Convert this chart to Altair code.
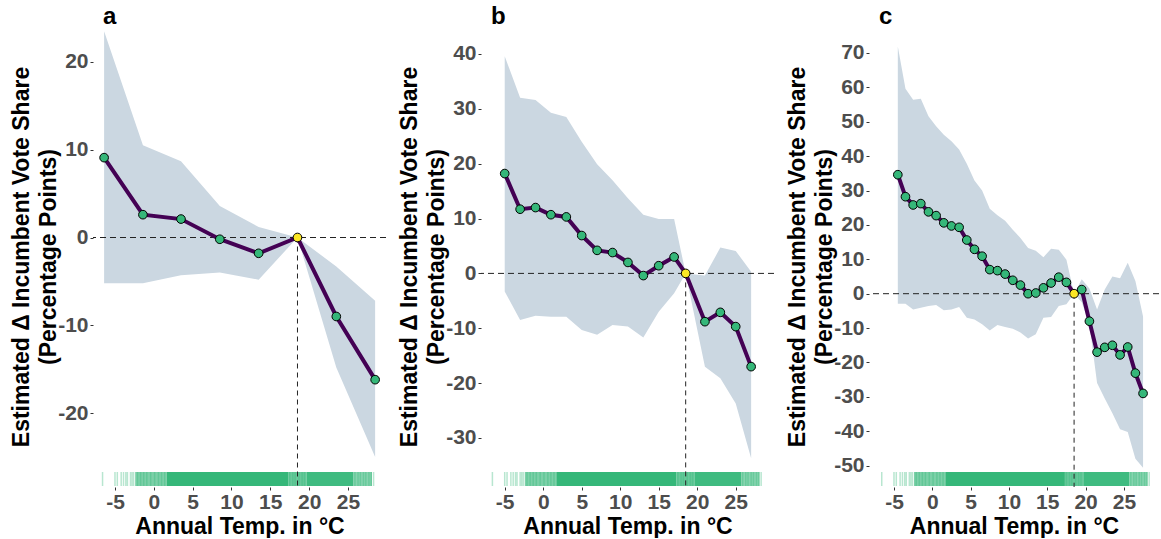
import altair as alt
import pandas as pd

FONT = "Liberation Sans"
ref_temp = 18.5
panel_letters = ["a", "b", "c"]
x_ticks = [-5, 0, 5, 10, 15, 20, 25]
y_title = ["Estimated Δ Incumbent Vote Share", "(Percentage Points)"]
x_title = "Annual Temp. in °C"

# Panel a
a_temp = [-6.4, -1.4, 3.5, 8.5, 13.5, 18.5, 23.5, 28.5]
a_est = [9.1, 2.6, 2.1, -0.2, -1.8, 0.0, -9.0, -16.2]
a_upper = [23.5, 10.5, 8.7, 3.6, 1.2, 0.0, -3.3, -7.2]
a_lower = [-5.2, -5.2, -4.3, -4.0, -4.8, 0.0, -14.8, -25.0]
a_yticks = [-20, -10, 0, 10, 20]

# Panel b
b_temp = [-5, -3, -1, 1, 3, 5, 7, 9, 11, 13, 15, 17, 18.5, 21, 23, 25, 27]
b_est = [18.2, 11.7, 12.0, 10.7, 10.3, 6.9, 4.2, 3.8, 2.0, -0.4, 1.4, 3.0, 0.0,
         -8.8, -7.1, -9.7, -17.0]
b_upper = [39.6, 32.0, 31.6, 29.3, 28.5, 24.0, 19.9, 17.0, 13.7, 10.7, 9.9, 9.9,
           0.0, -0.4, 4.7, 4.1, 0.3]
b_lower = [-3.3, -8.5, -7.7, -7.9, -7.9, -10.3, -11.2, -9.4, -9.7, -11.7, -7.0,
           -3.6, 0.0, -17.0, -19.1, -23.7, -33.7]
b_yticks = [-30, -20, -10, 0, 10, 20, 30, 40]

# Panel c
c_temp = [-4.5, -3.5, -2.5, -1.5, -0.5, 0.5, 1.5, 2.5, 3.5, 4.5, 5.5, 6.5, 7.5,
          8.5, 9.5, 10.5, 11.5, 12.5, 13.5, 14.5, 15.5, 16.5, 17.5, 18.5, 19.5,
          20.5, 21.5, 22.5, 23.5, 24.5, 25.5, 26.5, 27.5]
c_est = [34.6, 28.2, 25.8, 26.2, 23.8, 22.7, 20.6, 19.7, 19.3, 15.6, 12.9, 10.9,
         7.0, 6.7, 5.7, 3.9, 2.5, 0.0, 0.2, 1.7, 3.1, 4.8, 3.3, 0.0, 1.2, -8.0,
         -17.0, -15.6, -15.0, -17.8, -15.5, -23.1, -29.0]
c_upper = [71.9, 59.6, 56.4, 56.7, 51.6, 48.7, 46.2, 44.3, 41.9, 37.8, 32.9, 30.0,
           24.7, 22.8, 21.2, 18.6, 16.2, 13.3, 12.5, 10.6, 13.1, 12.8, 9.9, 0.0,
           4.2, 1.5, -4.6, 1.2, 5.0, 4.5, 9.0, 3.7, -6.6]
c_lower = [-2.9, -2.9, -4.6, -4.1, -3.6, -3.3, -4.8, -4.6, -3.9, -7.0, -7.5, -8.9,
           -10.7, -9.1, -9.7, -10.2, -11.3, -13.0, -11.8, -7.0, -6.8, -3.6, -3.1,
           0.0, -2.5, -8.9, -26.0, -30.5, -34.8, -39.4, -40.2, -48.0, -50.6]
c_yticks = [-50, -40, -30, -20, -10, 0, 10, 20, 30, 40, 50, 60, 70]

# Rug of observed annual temperatures (shared by all panels)
rug_lines = [-6.6, -5.0, -4.7, -4.2, -3.9, -3.6, -3.4, -3.0, -2.8, -2.6, -2.1,
             -1.7, -1.3, -0.9, -0.4, 0.1, 0.6, 1.0, 1.4, 17.5, 17.9, 18.2, 18.7,
             19.1, 19.4, 25.9, 26.3, 26.6, 27.0, 27.3, 27.7, 28.0, 28.3]
rug_from = [-2.4, 1.7, 17.3, 19.7, 25.7]
rug_to = [1.7, 17.3, 19.7, 25.7, 28.1]
rug_level = [0.65, 1.0, 0.75, 0.95, 0.6]

BAND = "#CBD7E1"
LINE = "#440154"
GREEN = "#35B779"
YELLOW = "#FDE725"
H = 461
RUG_TOP, RUG_BOT = 446, 460
HYPHEN_LABEL = "replace(datum.label, '\u2212', '-')"


def panel(letter, temps, est, upper, lower, xdom, ydom, yticks, width):
    df = pd.DataFrame({"temp": temps, "est": est, "upper": upper, "lower": lower})
    df["kind"] = ["ref" if t == ref_temp else "bin" for t in temps]
    xs = alt.Scale(domain=xdom, nice=False, zero=False)
    ys = alt.Scale(domain=ydom, nice=False, zero=False)
    xax = alt.Axis(values=x_ticks, title=x_title, labelExpr=HYPHEN_LABEL)
    yax = alt.Axis(values=yticks, title=y_title, labelExpr=HYPHEN_LABEL,
                   titleLineHeight=27, titlePadding=-3)
    X = lambda f: alt.X(f, scale=xs, axis=xax)
    Y = lambda f: alt.Y(f, scale=ys, axis=yax)

    base = alt.Chart(df)
    band = base.mark_area(color=BAND, opacity=1).encode(
        x=X("temp:Q"), y=Y("lower:Q"), y2="upper:Q")

    rug_df = pd.DataFrame({"temp": rug_from, "temp_end": rug_to, "level": rug_level})
    rug_rect = alt.Chart(rug_df).mark_rect(color=GREEN).encode(
        x=X("temp:Q"), x2="temp_end:Q",
        y=alt.value(RUG_TOP), y2=alt.value(RUG_BOT),
        opacity=alt.Opacity("level:Q", scale=alt.Scale(domain=[0, 1], range=[0, 1]),
                            legend=None))
    rug_tick = alt.Chart(pd.DataFrame({"temp": rug_lines})).mark_rule(
        color=GREEN, strokeWidth=1.5, opacity=0.35).encode(
        x=X("temp:Q"), y=alt.value(RUG_TOP), y2=alt.value(RUG_BOT))

    hline = alt.Chart(pd.DataFrame({"est": [0]})).mark_rule(
        color="#222222", strokeWidth=1, strokeDash=[6, 4]).encode(y=Y("est:Q"))
    vline = alt.Chart(pd.DataFrame({"temp": [ref_temp], "est": [0]})).mark_rule(
        color="#222222", strokeWidth=1, strokeDash=[5, 4]).encode(
        x=X("temp:Q"), y=Y("est:Q"), y2=alt.value(H))

    line = base.mark_line(color=LINE, strokeWidth=4).encode(x=X("temp:Q"), y=Y("est:Q"))
    pts = base.mark_point(shape="circle", filled=True, size=75, stroke="black",
                          strokeWidth=1, opacity=1).encode(
        x=X("temp:Q"), y=Y("est:Q"),
        fill=alt.Fill("kind:N", scale=alt.Scale(domain=["bin", "ref"], range=[GREEN, YELLOW]),
                      legend=None))
    tag = alt.Chart(pd.DataFrame({"letter": [letter]})).mark_text(
        align="left", baseline="alphabetic", fontSize=24, fontWeight="bold",
        font=FONT, color="black").encode(text="letter:N", x=alt.value(10), y=alt.value(-2))

    return alt.layer(band, rug_rect, rug_tick, hline, vline, line, pts, tag).properties(
        width=width, height=H)


pa = panel(panel_letters[0], a_temp, a_est, a_upper, a_lower,
           [-7.83, 29.9], [-28.43, 24.10], a_yticks, 293)
pb = panel(panel_letters[1], b_temp, b_est, b_upper, b_lower,
           [-8.08, 29.97], [-38.94, 45.10], b_yticks, 293)
pc = panel(panel_letters[2], c_temp, c_est, c_upper, c_lower,
           [-8.26, 29.58], [-56.21, 77.84], c_yticks, 290)

chart = alt.hconcat(pa, pb, pc, spacing=95, bounds="flush").properties(
    padding={"left": 10, "top": 5, "right": 0, "bottom": 0},
    background="white",
).configure_view(stroke=None).configure_axis(
    domain=False, grid=False, tickSize=3, tickColor="#333333", tickWidth=1,
    labelFont=FONT, labelFontSize=21, labelFontWeight="bold", labelColor="#4D4D4D",
    titleFont=FONT, titleFontSize=23, titleFontWeight="bold", titleColor="black",
).configure_axisY(labelPadding=2).configure_axisX(labelPadding=1, titlePadding=3)

chart.save("out.html", embed_options={"renderer": "svg", "actions": False})
